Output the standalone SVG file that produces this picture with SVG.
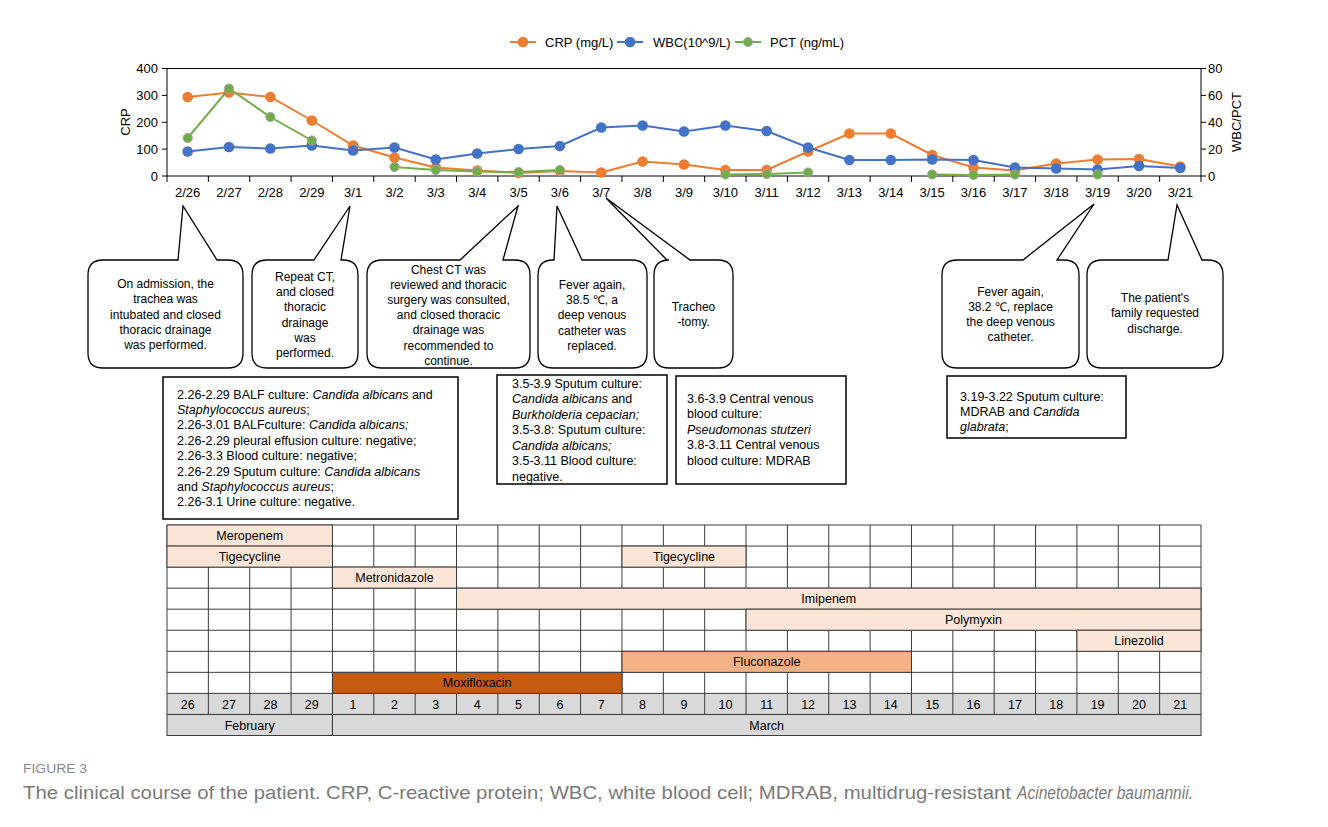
<svg xmlns="http://www.w3.org/2000/svg" width="1328" height="827" viewBox="0 0 1328 827">
<style>
text{font-family:"Liberation Sans",Arial,sans-serif;fill:#000}
.ax{font-size:13px}
.lg{font-size:13px}
.dt{font-size:13px;text-anchor:middle}
.co{font-size:12px;text-anchor:middle}
.bx{font-size:12.5px}
.tb{font-size:12.5px;text-anchor:middle}
.it{font-style:italic}
.cap{font-size:18.5px;fill:#7a7a7a}
.bubble{fill:#fff;stroke:#000;stroke-width:1.3;stroke-linejoin:miter}
.box{fill:#fff;stroke:#000;stroke-width:1.5}
.crp{fill:none;stroke:#ED7D31;stroke-width:2}
.wbc{fill:none;stroke:#4472C4;stroke-width:2}
.pct{fill:none;stroke:#70AD47;stroke-width:2}
.grid{stroke:#3c3c3c;stroke-width:1;fill:none}
.lt{fill:#FBE5D6;stroke:#3c3c3c;stroke-width:1}
.md{fill:#F4B183;stroke:#3c3c3c;stroke-width:1}
.dk{fill:#C55A11;stroke:#3c3c3c;stroke-width:1}
.gr{fill:#D9D9D9;stroke:#3c3c3c;stroke-width:1}
</style>
<defs>
<marker id="mC" viewBox="-6 -6 12 12" markerWidth="12" markerHeight="12" markerUnits="userSpaceOnUse" refX="0" refY="0"><circle r="5.3" fill="#ED7D31"/></marker>
<marker id="mW" viewBox="-6 -6 12 12" markerWidth="12" markerHeight="12" markerUnits="userSpaceOnUse" refX="0" refY="0"><circle r="5.3" fill="#4472C4"/></marker>
<marker id="mP" viewBox="-6 -6 12 12" markerWidth="12" markerHeight="12" markerUnits="userSpaceOnUse" refX="0" refY="0"><circle r="4.6" fill="#70AD47" stroke="#A5A5A5" stroke-width="1"/></marker>
</defs>
<rect width="1328" height="827" fill="#fff"/>

<g id="legend">
<line x1="510" y1="42" x2="536" y2="42" class="crp"/><circle cx="523" cy="42" r="5.3" fill="#ED7D31"/>
<text class="lg" x="545" y="46.5">CRP (mg/L)</text>
<line x1="617" y1="42" x2="643" y2="42" class="wbc"/><circle cx="630" cy="42" r="5.3" fill="#4472C4"/>
<text class="lg" x="653" y="46.5">WBC(10^9/L)</text>
<line x1="735" y1="42" x2="761" y2="42" class="pct"/><circle cx="748" cy="42" r="4.6" fill="#70AD47" stroke="#A5A5A5"/>
<text class="lg" x="770" y="46.5">PCT (ng/mL)</text>
</g>

<g id="chart-axes">
<rect x="167" y="68.5" width="1034" height="107.5" fill="none" stroke="#000" stroke-width="1"/>
<path d="M162 68.5H167M162 95.4H167M162 122.3H167M162 149.1H167M162 176H167M1201 68.5H1206M1201 95.4H1206M1201 122.3H1206M1201 149.1H1206M1201 176H1206" stroke="#000" stroke-width="1"/>
<path d="M167 176V182M208.36 176V182M249.72 176V182M291.08 176V182M332.44 176V182M373.8 176V182M415.16 176V182M456.52 176V182M497.88 176V182M539.24 176V182M580.6 176V182M621.96 176V182M663.32 176V182M704.68 176V182M746.04 176V182M787.4 176V182M828.76 176V182M870.12 176V182M911.48 176V182M952.84 176V182M994.2 176V182M1035.56 176V182M1076.92 176V182M1118.28 176V182M1159.64 176V182M1201 176V182" stroke="#000" stroke-width="1"/>
<g class="ax" text-anchor="end">
<text x="158" y="73">400</text><text x="158" y="100">300</text><text x="158" y="127">200</text><text x="158" y="153.5">100</text><text x="158" y="180.5">0</text>
</g>
<g class="ax">
<text x="1208" y="73">80</text><text x="1208" y="100">60</text><text x="1208" y="127">40</text><text x="1208" y="153.5">20</text><text x="1208" y="180.5">0</text>
</g>
<text class="ax" transform="translate(129.5 122) rotate(-90)" text-anchor="middle">CRP</text>
<text class="ax" transform="translate(1240.5 122) rotate(-90)" text-anchor="middle">WBC/PCT</text>
<g class="dt">
<text x="187.7" y="197">2/26</text><text x="229" y="197">2/27</text><text x="270.4" y="197">2/28</text><text x="311.8" y="197">2/29</text><text x="353.1" y="197">3/1</text><text x="394.5" y="197">3/2</text><text x="435.8" y="197">3/3</text><text x="477.2" y="197">3/4</text><text x="518.6" y="197">3/5</text><text x="559.9" y="197">3/6</text><text x="601.3" y="197">3/7</text><text x="642.6" y="197">3/8</text><text x="684" y="197">3/9</text><text x="725.4" y="197">3/10</text><text x="766.7" y="197">3/11</text><text x="808.1" y="197">3/12</text><text x="849.4" y="197">3/13</text><text x="890.8" y="197">3/14</text><text x="932.2" y="197">3/15</text><text x="973.5" y="197">3/16</text><text x="1014.9" y="197">3/17</text><text x="1056.2" y="197">3/18</text><text x="1097.6" y="197">3/19</text><text x="1139" y="197">3/20</text><text x="1180.3" y="197">3/21</text>
</g>
</g>

<g id="series">
<polyline class="crp" marker-start="url(#mC)" marker-mid="url(#mC)" marker-end="url(#mC)" points="187.7,97 229,92.5 270.4,97 311.8,120.5 353.1,145.5 394.5,157.5 435.8,167.5 477.2,170.5 518.6,173 559.9,171 601.3,172.5 642.6,161.5 684,164.5 725.4,170 766.7,170 808.1,151.5 849.4,133.5 890.8,133.5 932.2,155 973.5,167.5 1014.9,170.5 1056.2,163.5 1097.6,159.5 1139,159 1180.3,166.5"/>
<polyline class="wbc" marker-start="url(#mW)" marker-mid="url(#mW)" marker-end="url(#mW)" points="187.7,151.5 229,147 270.4,148.5 311.8,145.5 353.1,150.5 394.5,147.5 435.8,159.5 477.2,153.5 518.6,149 559.9,146 601.3,127.5 642.6,125.5 684,131.5 725.4,125.5 766.7,131 808.1,147.5 849.4,160 890.8,160 932.2,159.5 973.5,160 1014.9,167.5 1056.2,168.5 1097.6,169.5 1139,166 1180.3,168"/>
<polyline class="pct" marker-start="url(#mP)" marker-mid="url(#mP)" marker-end="url(#mP)" points="187.7,138 229,88.5 270.4,117 311.8,140.5"/>
<polyline class="pct" marker-start="url(#mP)" marker-mid="url(#mP)" marker-end="url(#mP)" points="394.5,167 435.8,170 477.2,171.5 518.6,172 559.9,170"/>
<polyline class="pct" marker-start="url(#mP)" marker-mid="url(#mP)" marker-end="url(#mP)" points="725.4,174.5 766.7,174 808.1,172.5"/>
<polyline class="pct" marker-start="url(#mP)" marker-mid="url(#mP)" marker-end="url(#mP)" points="932.2,174.5 973.5,175 1014.9,174.5"/>
<circle cx="1097.6" cy="174.5" r="4.6" fill="#70AD47" stroke="#A5A5A5"/>
</g>

<g id="callout-1">
<path class="bubble" d="M103 260H178L183 206L217 260H228Q243 260 243 275V353Q243 368 228 368H103Q88 368 88 353V275Q88 260 103 260Z"/>
<text class="co" y="288"><tspan x="165.5">On admission, the</tspan><tspan x="165.5" dy="15.3">trachea was</tspan><tspan x="165.5" dy="15.3">intubated and closed</tspan><tspan x="165.5" dy="15.3">thoracic drainage</tspan><tspan x="165.5" dy="15.3">was performed.</tspan></text>
</g>
<g id="callout-2">
<path class="bubble" d="M267 260H314L350 206L341 260H343Q358 260 358 275V353Q358 368 343 368H267Q252 368 252 353V275Q252 260 267 260Z"/>
<text class="co" y="281"><tspan x="305">Repeat CT,</tspan><tspan x="305" dy="15.2">and closed</tspan><tspan x="305" dy="15.2">thoracic</tspan><tspan x="305" dy="15.2">drainage</tspan><tspan x="305" dy="15.2">was</tspan><tspan x="305" dy="15.2">performed.</tspan></text>
</g>
<g id="callout-3">
<path class="bubble" d="M382 260H460L518 206L503 260H515Q530 260 530 275V353Q530 368 515 368H382Q367 368 367 353V275Q367 260 382 260Z"/>
<text class="co" y="273.5"><tspan x="448.5">Chest CT was</tspan><tspan x="448.5" dy="15.2">reviewed and thoracic</tspan><tspan x="448.5" dy="15.2">surgery was consulted,</tspan><tspan x="448.5" dy="15.2">and closed thoracic</tspan><tspan x="448.5" dy="15.2">drainage was</tspan><tspan x="448.5" dy="15.2">recommended to</tspan><tspan x="448.5" dy="15.2">continue.</tspan></text>
</g>
<g id="callout-4">
<path class="bubble" d="M553 260H554L557 206L582 260H632Q647 260 647 275V353Q647 368 632 368H553Q538 368 538 353V275Q538 260 553 260Z"/>
<text class="co" y="289"><tspan x="592">Fever again,</tspan><tspan x="592" dy="15.2">38.5 ℃, a</tspan><tspan x="592" dy="15.2">deep venous</tspan><tspan x="592" dy="15.2">catheter was</tspan><tspan x="592" dy="15.2">replaced.</tspan></text>
</g>
<g id="callout-5">
<path class="bubble" d="M669 260H667L606 198L690 260H718Q733 260 733 275V353Q733 368 718 368H669Q654 368 654 353V275Q654 260 669 260Z"/>
<text class="co" y="310.5"><tspan x="693.5">Tracheo</tspan><tspan x="693.5" dy="15.8">-tomy.</tspan></text>
</g>
<g id="callout-6">
<path class="bubble" d="M957 260H1023L1094 204L1057 260H1064Q1079 260 1079 275V353Q1079 368 1064 368H957Q942 368 942 353V275Q942 260 957 260Z"/>
<text class="co" y="295.5"><tspan x="1010.5">Fever again,</tspan><tspan x="1010.5" dy="15.3">38.2 ℃, replace</tspan><tspan x="1010.5" dy="15.3">the deep venous</tspan><tspan x="1010.5" dy="15.3">catheter.</tspan></text>
</g>
<g id="callout-7">
<path class="bubble" d="M1102 260H1168L1177 205L1202 260H1208Q1223 260 1223 275V353Q1223 368 1208 368H1102Q1087 368 1087 353V275Q1087 260 1102 260Z"/>
<text class="co" y="302"><tspan x="1155">The patient's</tspan><tspan x="1155" dy="15.3">family requested</tspan><tspan x="1155" dy="15.3">discharge.</tspan></text>
</g>

<g id="culture-a">
<rect class="box" x="163" y="377" width="295" height="142"/>
<text class="bx" y="398.5"><tspan x="177">2.26-2.29 BALF culture: <tspan class="it">Candida albicans</tspan> and</tspan><tspan x="177" dy="15.4" class="it">Staphylococcus aureus</tspan><tspan>;</tspan><tspan x="177" dy="15.4">2.26-3.01 BALFculture: <tspan class="it">Candida albicans;</tspan></tspan><tspan x="177" dy="15.4">2.26-2.29 pleural effusion culture: negative;</tspan><tspan x="177" dy="15.4">2.26-3.3 Blood culture: negative;</tspan><tspan x="177" dy="15.4">2.26-2.29 Sputum culture: <tspan class="it">Candida albicans</tspan></tspan><tspan x="177" dy="15.4">and <tspan class="it">Staphylococcus aureus</tspan>;</tspan><tspan x="177" dy="15.4">2.26-3.1 Urine culture: negative.</tspan></text>
</g>
<g id="culture-b">
<rect class="box" x="497" y="375" width="170" height="109"/>
<text class="bx" y="387.5"><tspan x="512">3.5-3.9 Sputum culture:</tspan><tspan x="512" dy="15.5"><tspan class="it">Candida albicans</tspan> and</tspan><tspan x="512" dy="15.5" class="it">Burkholderia cepacian;</tspan><tspan x="512" dy="15.5">3.5-3.8: Sputum culture:</tspan><tspan x="512" dy="15.5" class="it">Candida albicans;</tspan><tspan x="512" dy="15.5">3.5-3.11 Blood culture:</tspan><tspan x="512" dy="15.5">negative.</tspan></text>
</g>
<g id="culture-c">
<rect class="box" x="676" y="376" width="170" height="108"/>
<text class="bx" y="402.5"><tspan x="687">3.6-3.9 Central venous</tspan><tspan x="687" dy="15.5">blood culture:</tspan><tspan x="687" dy="15.5" class="it">Pseudomonas stutzeri</tspan><tspan x="687" dy="15.5">3.8-3.11 Central venous</tspan><tspan x="687" dy="15.5">blood culture: MDRAB</tspan></text>
</g>
<g id="culture-d">
<rect class="box" x="947" y="376" width="179" height="62"/>
<text class="bx" y="400.5"><tspan x="960">3.19-3.22 Sputum culture:</tspan><tspan x="960" dy="15.2">MDRAB and <tspan class="it">Candida</tspan></tspan><tspan x="960" dy="15.2" class="it">glabrata</tspan><tspan>;</tspan></text>
</g>

<g id="drug-table">
<rect x="167" y="525" width="1034" height="168.4" fill="#fff"/>
<rect x="167" y="693.4" width="1034" height="21.05" fill="#D9D9D9"/>
<path class="grid" d="M167 525V714.45M208.36 525V714.45M249.72 525V714.45M291.08 525V714.45M332.44 525V714.45M373.8 525V714.45M415.16 525V714.45M456.52 525V714.45M497.88 525V714.45M539.24 525V714.45M580.6 525V714.45M621.96 525V714.45M663.32 525V714.45M704.68 525V714.45M746.04 525V714.45M787.4 525V714.45M828.76 525V714.45M870.12 525V714.45M911.48 525V714.45M952.84 525V714.45M994.2 525V714.45M1035.56 525V714.45M1076.92 525V714.45M1118.28 525V714.45M1159.64 525V714.45M1201 525V714.45"/>
<path class="grid" d="M167 525H1201M167 546.05H1201M167 567.1H1201M167 588.15H1201M167 609.2H1201M167 630.25H1201M167 651.3H1201M167 672.35H1201M167 693.4H1201M167 714.45H1201"/>
<rect class="lt" x="167" y="525" width="165.44" height="21.05"/>
<rect class="lt" x="167" y="546.05" width="165.44" height="21.05"/>
<rect class="lt" x="621.96" y="546.05" width="124.08" height="21.05"/>
<rect class="lt" x="332.44" y="567.1" width="124.08" height="21.05"/>
<rect class="lt" x="456.52" y="588.15" width="744.48" height="21.05"/>
<rect class="lt" x="746.04" y="609.2" width="454.96" height="21.05"/>
<rect class="lt" x="1076.92" y="630.25" width="124.08" height="21.05"/>
<rect class="md" x="621.96" y="651.3" width="289.52" height="21.05"/>
<rect class="dk" x="332.44" y="672.35" width="289.52" height="21.05"/>
<rect class="gr" x="167" y="714.45" width="165.44" height="21.05"/>
<rect class="gr" x="332.44" y="714.45" width="868.56" height="21.05"/>
<g class="tb">
<text x="249.7" y="540">Meropenem</text>
<text x="249.7" y="561">Tigecycline</text>
<text x="684" y="561">Tigecycline</text>
<text x="394.5" y="582">Metronidazole</text>
<text x="828.8" y="603">Imipenem</text>
<text x="973.5" y="624">Polymyxin</text>
<text x="1139" y="645">Linezolid</text>
<text x="766.7" y="666">Fluconazole</text>
<text x="477.2" y="687">Moxifloxacin</text>
<text x="187.7" y="708.5">26</text><text x="229" y="708.5">27</text><text x="270.4" y="708.5">28</text><text x="311.8" y="708.5">29</text><text x="353.1" y="708.5">1</text><text x="394.5" y="708.5">2</text><text x="435.8" y="708.5">3</text><text x="477.2" y="708.5">4</text><text x="518.6" y="708.5">5</text><text x="559.9" y="708.5">6</text><text x="601.3" y="708.5">7</text><text x="642.6" y="708.5">8</text><text x="684" y="708.5">9</text><text x="725.4" y="708.5">10</text><text x="766.7" y="708.5">11</text><text x="808.1" y="708.5">12</text><text x="849.4" y="708.5">13</text><text x="890.8" y="708.5">14</text><text x="932.2" y="708.5">15</text><text x="973.5" y="708.5">16</text><text x="1014.9" y="708.5">17</text><text x="1056.2" y="708.5">18</text><text x="1097.6" y="708.5">19</text><text x="1139" y="708.5">20</text><text x="1180.3" y="708.5">21</text>
<text x="249.7" y="729.5">February</text>
<text x="766.7" y="729.5">March</text>
</g>
</g>

<g id="caption">
<text x="23" y="773" font-size="12" style="fill:#8a8a8a" textLength="64" lengthAdjust="spacingAndGlyphs">FIGURE 3</text>
<text class="cap" x="23" y="799" textLength="988" lengthAdjust="spacingAndGlyphs">The clinical course of the patient. CRP, C-reactive protein; WBC, white blood cell; MDRAB, multidrug-resistant</text>
<text class="cap it" x="1017" y="799" textLength="176" lengthAdjust="spacingAndGlyphs">Acinetobacter baumannii.</text>
</g>
</svg>
